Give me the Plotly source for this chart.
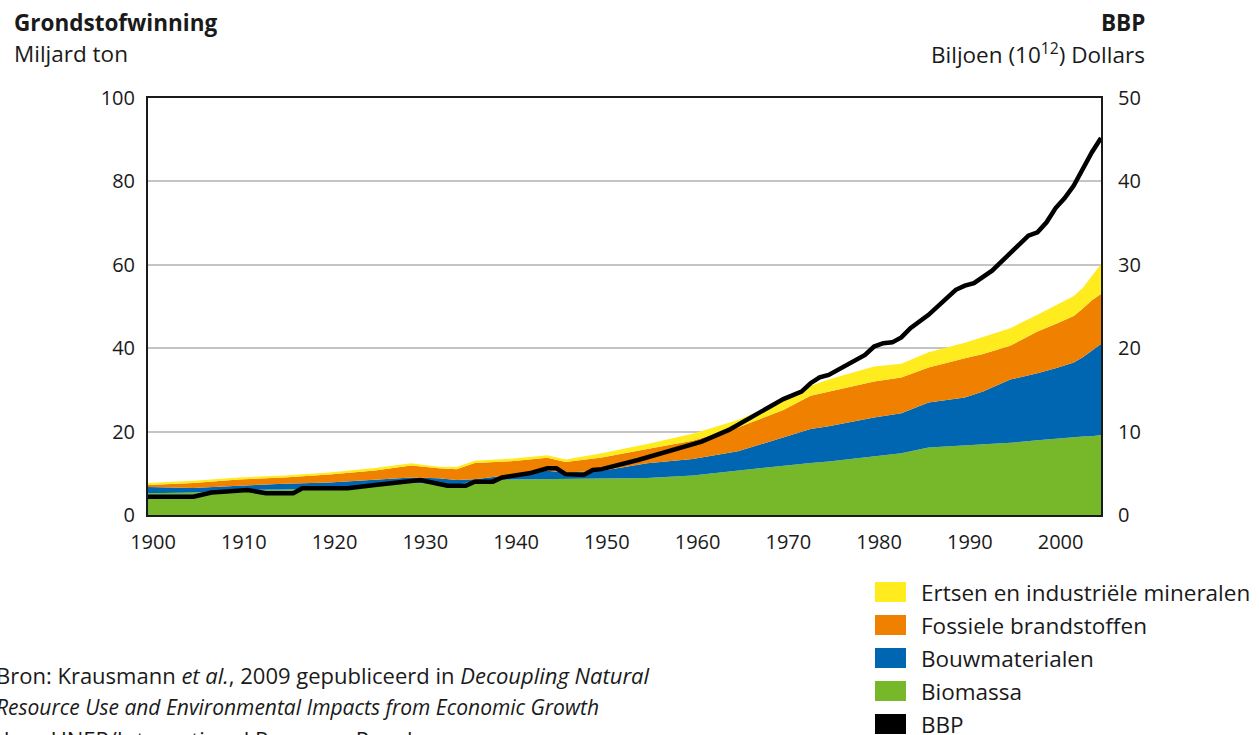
import plotly.graph_objects as go

# ---- Data ----
years = [1900, 1905, 1910, 1915, 1920, 1925, 1929, 1932, 1934, 1936, 1940, 1944, 1946,
         1950, 1955, 1960, 1965, 1970, 1973, 1975, 1980, 1983, 1986, 1990, 1992, 1995,
         1998, 2000, 2002, 2003, 2004, 2005]

biomassa = [5.2, 5.4, 6.0, 6.1, 6.5, 7.0, 7.8, 7.3, 7.2, 8.2, 8.5, 8.6, 8.6,
            8.6, 8.9, 9.5, 10.7, 11.9, 12.5, 12.8, 14.0, 14.8, 16.2, 16.7, 16.9, 17.3,
            17.9, 18.3, 18.7, 18.8, 18.9, 19.2]
bouwmaterialen = [1.5, 1.1, 1.0, 1.4, 1.3, 1.5, 1.2, 1.5, 1.2, 0.4, 1.1, 2.0, 1.6,
                  2.0, 3.5, 3.9, 4.6, 6.7, 8.1, 8.5, 9.4, 9.6, 10.8, 11.5, 12.7, 15.2,
                  16.1, 16.9, 17.9, 19.0, 20.6, 21.8]
fossiel = [0.5, 1.2, 1.5, 1.5, 1.9, 2.2, 2.9, 2.4, 2.6, 3.9, 3.3, 3.1, 2.5,
           3.2, 3.4, 4.4, 5.7, 6.6, 8.0, 8.3, 8.6, 8.6, 8.4, 9.4, 9.0, 8.1,
           10.0, 10.6, 11.1, 11.7, 12.0, 12.0]
ertsen = [0.5, 0.5, 0.5, 0.5, 0.5, 0.6, 0.5, 0.4, 0.5, 0.5, 0.6, 0.6, 0.6,
          1.0, 1.2, 1.7, 1.8, 2.1, 2.4, 2.9, 3.6, 3.3, 3.6, 3.7, 4.1, 4.2,
          4.0, 4.4, 4.8, 5.0, 6.0, 7.2]

bbp_years = [1900, 1905, 1907, 1908, 1911, 1913, 1916, 1917, 1922, 1925, 1930, 1933,
             1935, 1936, 1938, 1939, 1942, 1944, 1945, 1946, 1948, 1949, 1950, 1954,
             1957, 1961, 1964, 1965, 1968, 1970, 1972, 1973, 1974, 1975, 1979, 1980,
             1981, 1982, 1983, 1984, 1986, 1989, 1990, 1991, 1993, 1995, 1997, 1998,
             1999, 2000, 2001, 2002, 2003, 2004, 2005]
bbp = [2.2, 2.2, 2.7, 2.8, 3.0, 2.6, 2.6, 3.2, 3.2, 3.6, 4.2, 3.5,
       3.5, 4.0, 4.0, 4.5, 5.0, 5.6, 5.6, 4.9, 4.8, 5.4, 5.5, 6.6,
       7.5, 8.8, 10.2, 10.8, 12.6, 13.9, 14.8, 15.8, 16.5, 16.8, 19.2, 20.2,
       20.6, 20.7, 21.3, 22.4, 24.0, 27.0, 27.5, 27.8, 29.3, 31.4, 33.5, 33.9,
       35.1, 36.8, 38.0, 39.5, 41.5, 43.5, 45.2]

left_ticks = [0, 20, 40, 60, 80, 100]
right_ticks = [0, 10, 20, 30, 40, 50]
x_ticks = [1900, 1910, 1920, 1930, 1940, 1950, 1960, 1970, 1980, 1990, 2000]

names = ["Biomassa", "Bouwmaterialen", "Fossiele brandstoffen", "Ertsen en industriële mineralen"]
colors = ["#77B82A", "#0166B1", "#EF8000", "#FFEC1F"]
series = [biomassa, bouwmaterialen, fossiel, ertsen]

FONT = "Open Sans"
TXT = "#1a1a1a"

fig = go.Figure()
for name, col, vals in zip(names, colors, series):
    fig.add_trace(go.Scatter(
        x=years, y=vals, name=name, stackgroup="grond", mode="lines",
        line=dict(width=0, color=col), fillcolor=col, showlegend=False,
        hoverinfo="x+y+name"))

fig.add_trace(go.Scatter(
    x=bbp_years, y=bbp, name="BBP", mode="lines", yaxis="y2",
    line=dict(color="black", width=4.5), showlegend=False))

# Plot area geometry in pixels
L, R, T, B = 148, 1101, 98, 515
W, H = 1259, 735
pw, ph = R - L, B - T

def px(x):
    return (x - L) / pw

def py(y):
    return (B - y) / ph

fig.update_layout(
    width=W, height=H,
    margin=dict(l=L, r=W - R, t=T, b=H - B, pad=0),
    paper_bgcolor="white", plot_bgcolor="white",
    font=dict(family=FONT, size=20, color=TXT),
    xaxis=dict(range=[1900, 2005], tickvals=x_ticks, ticks="", showgrid=False,
               showline=True, linecolor=TXT, linewidth=2, mirror=True,
               ticklabelstandoff=8, ticklabelshift=5, zeroline=False,
               tickfont=dict(size=20)),
    yaxis=dict(range=[0, 100], tickvals=left_ticks, ticks="", showgrid=True,
               gridcolor="#c4c4c4", gridwidth=2, showline=True, linecolor=TXT,
               linewidth=2, mirror=True, zeroline=False, ticklabelstandoff=7,
               tickfont=dict(size=20)),
    yaxis2=dict(range=[0, 50], tickvals=right_ticks, overlaying="y", side="right",
                showgrid=False, showline=False, zeroline=False, ticks="",
                ticklabelstandoff=16, tickfont=dict(size=20)),
    hovermode="x",
)

ann = []
ann.append(dict(text="<b>Grondstofwinning</b>", x=px(12), y=py(22), xanchor="left",
                yanchor="middle", font=dict(size=22.5)))
ann.append(dict(text="Miljard ton", x=px(12), y=py(53), xanchor="left",
                yanchor="middle", font=dict(size=22.5)))
ann.append(dict(text="<b>BBP</b>", x=px(1147), y=py(22), xanchor="right",
                yanchor="middle", font=dict(size=22.5)))
ann.append(dict(text="Biljoen (10<sup>12</sup>) Dollars", x=px(1147), y=py(53),
                xanchor="right", yanchor="middle", font=dict(size=22.5)))

# Source text
src_lines = [("Bron: Krausmann <i>et al.</i>, 2009 gepubliceerd in <i>Decoupling Natural</i>", 22),
             ("<i>Resource Use and Environmental Impacts from Economic Growth</i>", 21),
             ("door UNEP/International Resource Panel", 22)]
for i, (s, fs) in enumerate(src_lines):
    ann.append(dict(text=s, x=px(-6), y=py(675 + 32 * i), xanchor="left",
                    yanchor="middle", font=dict(size=fs)))

# Legend (drawn manually to mimic square swatches)
leg_items = [("Ertsen en industriële mineralen", "#FFEC1F"),
             ("Fossiele brandstoffen", "#EF8000"),
             ("Bouwmaterialen", "#0166B1"),
             ("Biomassa", "#77B82A"),
             ("BBP", "black")]
shapes = []
for i, (lab, col) in enumerate(leg_items):
    cy = 592 + 33 * i
    shapes.append(dict(type="rect", xref="paper", yref="paper",
                       x0=px(875), x1=px(906), y0=py(cy + 10), y1=py(cy - 10),
                       fillcolor=col, line=dict(width=0)))
    ann.append(dict(text=lab, x=px(919), y=py(cy), xanchor="left",
                    yanchor="middle", font=dict(size=22.5)))

for a in ann:
    a.update(xref="paper", yref="paper", showarrow=False)

fig.update_layout(annotations=ann, shapes=shapes)

fig.write_html("out.html", config={"displayModeBar": False},
               post_script="document.body.style.margin='0';document.body.style.overflow='hidden';")
